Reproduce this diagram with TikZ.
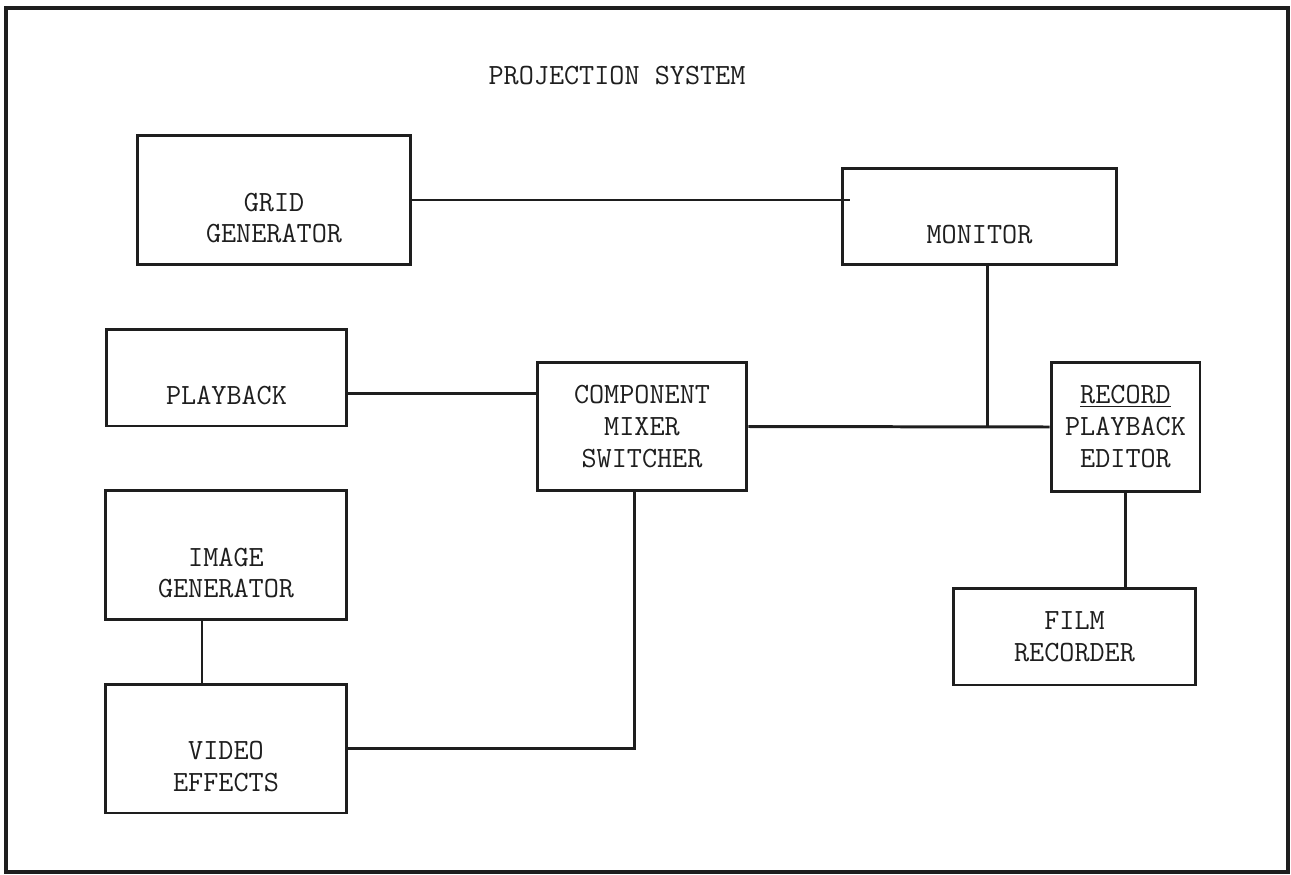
\documentclass[tikz,border=0pt]{standalone}
\usetikzlibrary{calc}
\definecolor{psInk}{HTML}{1E1E1E}
\newcommand{\blankrow}{\strut\\}
\tikzset{
  unit/.style={
    draw=psInk, line width=1.7pt, fill=white, inner sep=0pt,
    align=center, text=psInk,
    font=\ttfamily\fontsize{16.7}{18.2}\selectfont
  },
  wideunit/.style={unit, minimum width=4.84cm, minimum height=2.58cm},
  lowunit/.style={unit, minimum height=1.94cm},
  heading/.style={font=\ttfamily\fontsize{16.7}{18.2}\selectfont, text=psInk, inner sep=0pt},
  link/.style={line width=1.7pt, draw=psInk},
  frame/.style={line width=1.8pt, draw=psInk},
}

\begin{document}
\begin{tikzpicture}[x=0.02cm, y=-0.02cm]
  \useasboundingbox (0,0) rectangle (1291,875);
  \draw[frame] (6,8) rectangle (1288,872);
  \node[heading] (title) at (617,76) {PROJECTION SYSTEM};

  % sources on the left
  \node[unit, minimum width=5.48cm, minimum height=2.6cm] (grid) at (274,200) {\blankrow GRID\\GENERATOR};
  \node[lowunit, minimum width=4.82cm] (play) at (226.5,377.5) {\blankrow PLAYBACK};
  \node[wideunit] (imggen) at (226,555) {\blankrow IMAGE\\GENERATOR};
  \node[wideunit] (vfx) at (226,748.5) {\blankrow VIDEO\\EFFECTS};

  % mixer and outputs
  \node[unit, minimum width=4.2cm, minimum height=2.58cm] (mixer) at (642,426.5) {COMPONENT\\MIXER\\SWITCHER};
  \node[lowunit, minimum width=5.5cm] (monitor) at (979.5,216.5) {\blankrow MONITOR};
  \node[unit, minimum width=2.98cm, minimum height=2.6cm] (rec) at (1125.5,427) {\underline{RECORD}\\PLAYBACK\\EDITOR};
  \node[lowunit, minimum width=4.86cm] (film) at (1074.5,636.5) {FILM\\RECORDER};

  \coordinate (playout) at ($(play.east)+(0,16)$);
  \coordinate (monout) at ($(monitor.south)+(8,0)$);
  \coordinate (imgout) at ($(imggen.south)+(-24,0)$);
  \coordinate (mixin) at ($(mixer.south)+(-8,0)$);

  \draw[link] (grid.east) -- (grid.east -| monitor.west) -- ++(9,0);
  \draw[link] (playout) -- (playout -| mixer.west);
  \draw[link] (mixer.east) -- (rec.west);
  \draw[link] (monout) -- (monout |- rec.west);
  \draw[link] (rec.south) -- (rec.south |- film.north);
  \draw[link] (imgout) -- (imgout |- vfx.north);
  \draw[link] (vfx.east) -| (mixin);
\end{tikzpicture}
\end{document}
